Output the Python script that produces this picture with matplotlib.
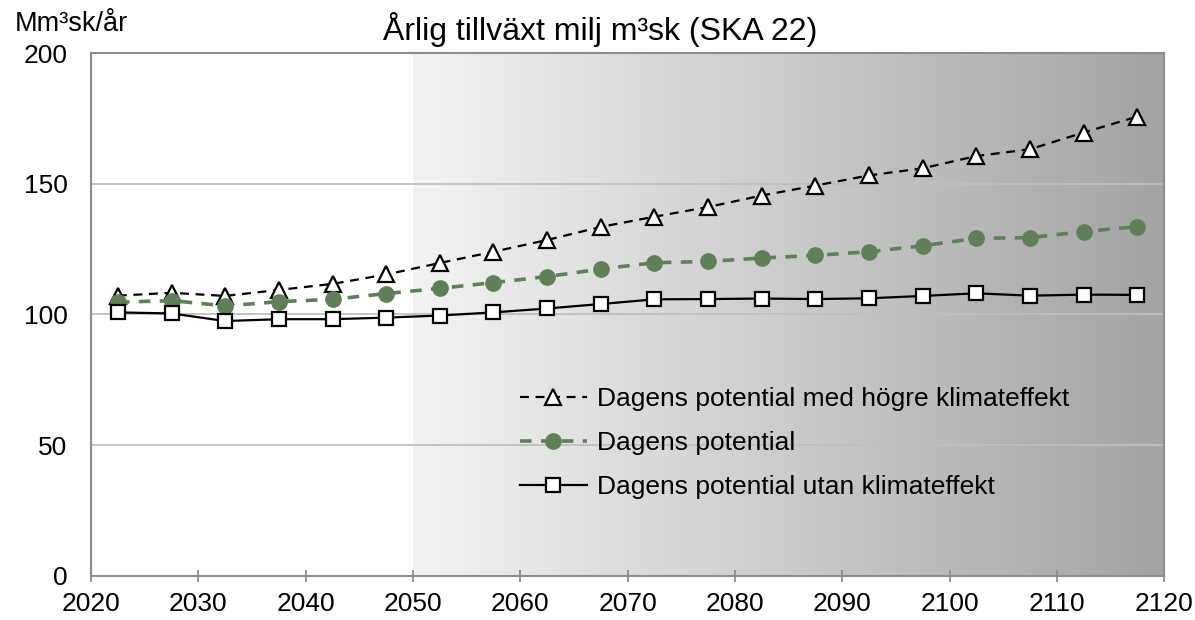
import numpy as np
import matplotlib
matplotlib.use("Agg")
import matplotlib.pyplot as plt
from matplotlib.colors import LinearSegmentedColormap

plt.rcParams['font.family'] = ['Liberation Sans', 'DejaVu Sans']

# data
years = [2022.5, 2027.5, 2032.5, 2037.5, 2042.5, 2047.5, 2052.5, 2057.5, 2062.5, 2067.5,
         2072.5, 2077.5, 2082.5, 2087.5, 2092.5, 2097.5, 2102.5, 2107.5, 2112.5, 2117.5]
hogre_klimat = [107.2, 108.3, 107.1, 109.4, 111.7, 115.3, 119.7, 124.0, 128.5, 133.5,
                137.4, 141.1, 145.5, 149.3, 153.2, 155.9, 160.6, 163.2, 169.6, 175.7]
potential = [104.7, 105.3, 103.3, 104.9, 105.8, 108.0, 110.0, 112.2, 114.5, 117.4,
             119.8, 120.3, 121.6, 122.6, 124.0, 126.3, 129.1, 129.4, 131.7, 133.6]
utan_klimat = [100.8, 100.4, 97.5, 98.2, 98.2, 98.8, 99.6, 100.8, 102.3, 104.0,
               105.8, 105.9, 106.1, 105.9, 106.2, 107.1, 108.1, 107.2, 107.6, 107.5]
labels = ['Dagens potential med högre klimateffekt',
          'Dagens potential',
          'Dagens potential utan klimateffekt']
shade_start = 2050

fig = plt.figure(figsize=(11.95, 6.2), dpi=100)
ax = fig.add_axes([0.0762, 0.071, 0.898, 0.8435])

# gradient background after 2050
cmap = LinearSegmentedColormap.from_list('shade', ['#f3f3f3', '#a3a3a3'])
grad = np.linspace(0, 1, 256).reshape(1, -1)
ax.imshow(grad, cmap=cmap, extent=[shade_start, 2120, 0, 200], aspect='auto',
          interpolation='bicubic', zorder=0)

ax.set_xlim(2020, 2120)
ax.set_ylim(0, 200)
ax.set_yticks([0, 50, 100, 150, 200])
ax.set_xticks(np.arange(2020, 2121, 10))
ax.grid(axis='y', color='#bfbfbf', linewidth=1.3, zorder=1)
ax.set_axisbelow(True)

for side in ['left', 'bottom', 'top', 'right']:
    ax.spines[side].set_color('#8c8c8c')
    ax.spines[side].set_linewidth(1.5)

ax.tick_params(axis='x', direction='inout', length=9, width=1.3, color='#8c8c8c',
               labelsize=19, pad=7)
ax.tick_params(axis='y', length=0, labelsize=19, pad=17)

ax.plot(years, hogre_klimat, color='black', linestyle=(0, (4, 3)), linewidth=1.6,
        marker='^', markersize=11, markerfacecolor='white', markeredgecolor='black',
        markeredgewidth=1.6, label=labels[0], zorder=3)
ax.plot(years, potential, color='#5e7f57', linestyle=(0, (3.2, 2.6)), linewidth=2.6,
        marker='o', markersize=11, markerfacecolor='#5e7f57', markeredgecolor='#5e7f57',
        label=labels[1], zorder=3)
ax.plot(years, utan_klimat, color='black', linestyle='-', linewidth=1.6,
        marker='s', markersize=10.5, markerfacecolor='white', markeredgecolor='black',
        markeredgewidth=1.6, label=labels[2], zorder=3)

ax.legend(loc='upper left', bbox_to_anchor=(0.387, 0.387), frameon=False, fontsize=19,
          handlelength=2.55, handletextpad=0.4, labelspacing=0.77, borderpad=0)

fig.text(0.0125, 0.95, 'Mm³sk/år', fontsize=19.5, ha='left', va='baseline')
fig.text(0.502, 0.935, 'Årlig tillväxt milj m³sk (SKA 22)', fontsize=23,
         ha='center', va='baseline')

fig.savefig('out.png', dpi=100)
